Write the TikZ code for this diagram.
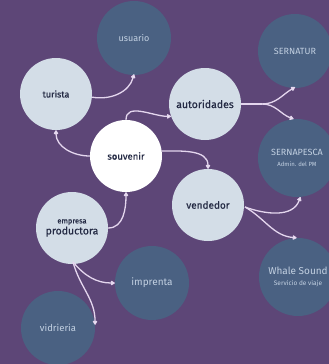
\documentclass[tikz,border=0pt]{standalone}
\usepackage{fontspec}
\setmainfont{Fira Sans}
\newfontfamily\medfont{Fira Sans}[FakeBold=0.6]
\usetikzlibrary{arrows.meta}
\definecolor{bg}{HTML}{5D4677}
\definecolor{lightc}{HTML}{D3DDE7}
\definecolor{darkc}{HTML}{4A6182}
\definecolor{darktxt}{HTML}{252B45}
\definecolor{lighttxt}{HTML}{C3D1E2}
\definecolor{conn}{HTML}{E4D6EE}
\tikzset{
  lightnode/.style={circle, fill=lightc, minimum size=72pt, inner sep=0pt, text=darktxt, align=center, font=\medfont},
  darknode/.style={circle, fill=darkc, minimum size=74pt, inner sep=0pt, text=lighttxt, align=center},
  whitenode/.style={circle, fill=white, minimum size=72pt, inner sep=0pt, text=darktxt, align=center, font=\medfont},
  link/.style={draw=conn, line width=1.3pt, -{Triangle[width=5pt,length=4.5pt,round,fill=white]}},
  plain/.style={draw=conn, line width=1.3pt}
}
\begin{document}
\begin{tikzpicture}[x=1pt,y=-1pt]
\fill[bg] (0,0) rectangle (329,364);
\useasboundingbox (0,0) rectangle (329,364);
% dark nodes
\node[darknode] (usu) at (134,38) {\fontsize{9}{10}\selectfont usuario};
\node[darknode] (sernatur) at (295,51) {\fontsize{9}{10}\selectfont SERNATUR};
\node[darknode, minimum size=78pt] (sernapesca) at (297,158) {\fontsize{9}{10}\selectfont SERNAPESCA\\[-1pt]\fontsize{6}{7}\selectfont Admin. del PM};
\node[darknode, minimum size=78pt] (whale) at (298,277) {\fontsize{10}{11}\selectfont Whale Sound\\[-1pt]\fontsize{6.5}{7}\selectfont Servicio de viaje};
\node[darknode] (imp) at (152,283) {\fontsize{10}{11}\selectfont imprenta};
\node[darknode] (vid) at (58,328) {\fontsize{9.5}{11}\selectfont vidrieria};
% light nodes
\node[lightnode] (tur) at (56,94) {\fontsize{9}{10}\selectfont turista};
\node[lightnode] (aut) at (205,104) {\fontsize{10.5}{12}\selectfont autoridades};
\node[lightnode] (ven) at (208,205) {\fontsize{10}{11}\selectfont vendedor};
\node[lightnode] (emp) at (72,228) {\fontsize{7.5}{8}\selectfont empresa\\[-1pt]\fontsize{10.5}{12}\selectfont productora};
\node[whitenode] (souv) at (126,156) {\fontsize{9.5}{11}\selectfont souvenir};
% connectors
\draw[link] (souv.west) to[out=180,in=-90] (tur.south);
\draw[link] (tur.-5) to[out=-10,in=-105] ([yshift=1pt]usu.south);
\draw[link] (souv.north) to[out=90,in=180] (aut.200);
\draw[link] (souv.8) to[out=0,in=90] (ven.north);
\coordinate (split) at (262,104);
\draw[plain] (aut.east) -- (split);
\draw[link] (split) to[out=0,in=-150] ([yshift=1pt]sernatur.south);
\draw[link] (split) to[out=0,in=160] (sernapesca.95);
\coordinate (vsplit) at (245,207);
\draw[link] (vsplit) to[out=-20,in=-110] (sernapesca.-85);
\draw[link] (vsplit) to[out=-30,in=175] (whale.92);
\draw[link] (emp.east) to[out=0,in=-90] (souv.south);
\coordinate (esplit) at (73,262);
\draw[link] (esplit) to[out=-50,in=180] (imp.west);
\draw[link] (esplit) to[out=-75,in=90] (vid.5);
\end{tikzpicture}
\end{document}
